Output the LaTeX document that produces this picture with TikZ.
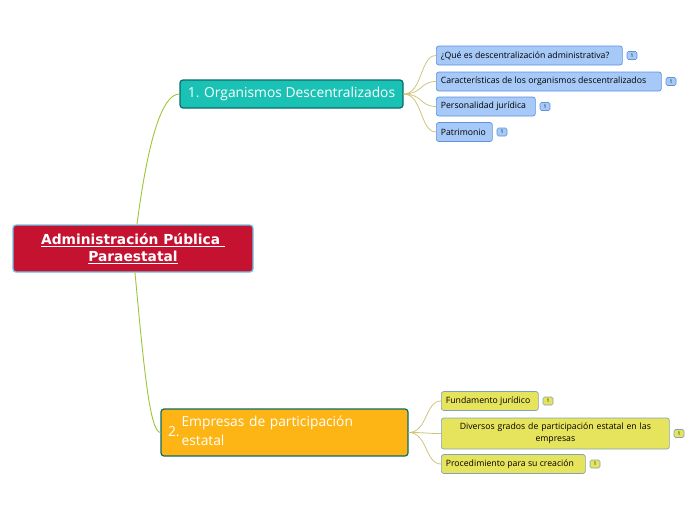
\documentclass[tikz,border=0pt]{standalone}
\usepackage{fontspec}
\setmainfont{Open Sans}
\newfontfamily\rootfont{DejaVu Sans}
\usetikzlibrary{positioning}

\definecolor{rootred}{HTML}{C41230}
\definecolor{rootedge}{HTML}{71C5E8}
\definecolor{tealfill}{HTML}{19C2B4}
\definecolor{tealedge}{HTML}{0C6B66}
\definecolor{amberfill}{HTML}{FDB515}
\definecolor{bluefill}{HTML}{A6C9F8}
\definecolor{blueedge}{HTML}{5D93DC}
\definecolor{yellowfill}{HTML}{E6E35C}
\definecolor{yellowedge}{HTML}{7FA3BA}
\definecolor{greenlink}{HTML}{9DC43A}
\definecolor{olivelink}{HTML}{CFC47E}

\begin{document}
\begin{tikzpicture}[
        x=1pt, y=-1pt,
        rootbox/.style={rectangle, rounded corners=3pt, draw=rootedge, line width=1.3pt, fill=rootred,
            text=white, font=\rootfont\bfseries\fontsize{13.8}{17}\selectfont, align=center,
            minimum width=240pt, minimum height=47pt, inner sep=0pt},
        mainbox/.style={rectangle, rounded corners=3pt, draw=tealedge, line width=1.2pt,
            text=white, font=\fontsize{13.8}{19}\selectfont, inner sep=0pt},
        subbox/.style={rectangle, rounded corners=2.5pt, line width=0.7pt,
            font=\fontsize{8.7}{13}\selectfont, inner xsep=4.5pt, inner ysep=0pt, anchor=west,
            text width=#1-9pt, align=flush left, minimum height=19pt},
        bluebox/.style={subbox=#1, draw=blueedge, fill=bluefill},
        yellowbox/.style={subbox=#1, draw=yellowedge, fill=yellowfill},
        badge/.style={rectangle, rounded corners=1.5pt, line width=0.6pt, font=\fontsize{5}{5}\selectfont,
            minimum width=10pt, minimum height=8pt, inner sep=0pt, right=4pt of #1},
        rootlink/.style={draw=greenlink, line width=0.9pt},
        sublink/.style={draw=olivelink, line width=0.8pt}
    ]
        \useasboundingbox (0,0) rectangle (696,520);

        % Central topic
        \node[rootbox] (root) at (133, 248.5) {\underline{Administración Pública\ }\\\underline{Paraestatal}};

        % Main topics
        \node[mainbox, fill=tealfill, minimum width=223pt, minimum height=28pt] (org) at (291.5, 94) {1. Organismos Descentralizados};
        \node[mainbox, fill=amberfill, minimum width=247pt, minimum height=47pt, align=left, text width=233pt] (emp) at (284.5, 432.5)
            {2.\hspace{2pt}\begin{tabular}[c]{@{}l@{}}Empresas de participación\\estatal\end{tabular}};

        % Subtopics of 1.
        \node[bluebox=186pt] (que) at (436, 55.5) {¿Qué es descentralización administrativa?};
        \node[bluebox=225pt] (carac) at (436, 81.5) {Características de los organismos descentralizados};
        \node[bluebox=99pt] (pers) at (436, 106.5) {Personalidad jurídica};
        \node[bluebox=56pt] (patr) at (436, 132) {Patrimonio};

        % Subtopics of 2.
        \node[yellowbox=97pt] (fund) at (441, 401) {Fundamento jurídico};
        \node[yellowbox=228pt, minimum height=31pt, align=center, font=\fontsize{8.7}{12}\selectfont] (div) at (441, 433.5)
            {Diversos grados de participación estatal en las\\empresas};
        \node[yellowbox=144pt] (proc) at (441, 464) {Procedimiento para su creación};

        % Note badges
        \node[badge=que, draw=blueedge, fill=bluefill] (queb) {1};
        \node[badge=carac, draw=blueedge, fill=bluefill] (caracb) {1};
        \node[badge=pers, draw=blueedge, fill=bluefill] (persb) {1};
        \node[badge=patr, draw=blueedge, fill=bluefill] (patrb) {1};
        \node[badge=fund, draw=yellowedge, fill=yellowfill] (fundb) {1};
        \node[badge=div, draw=yellowedge, fill=yellowfill] (divb) {1};
        \node[badge=proc, draw=yellowedge, fill=yellowfill] (procb) {1};

        % Branches from the central topic
        \draw[rootlink] ([xshift=4pt]root.north) .. controls (148,140) and (162,94) .. (org.west);
        \draw[rootlink] ([xshift=2pt]root.south) .. controls (144,370) and (150,432) .. (emp.west);

        % Branches to subtopics
        \foreach \n in {que, carac, pers, patr}
            \draw[sublink] (org.east) .. controls ([xshift=19pt]org.east) and (\n.west -| 420,0) .. (\n.west);
        \foreach \n in {fund, div, proc}
            \draw[sublink] (emp.east) .. controls ([xshift=19pt]emp.east) and (\n.west -| 425,0) .. (\n.west);

    \end{tikzpicture}
\end{document}
